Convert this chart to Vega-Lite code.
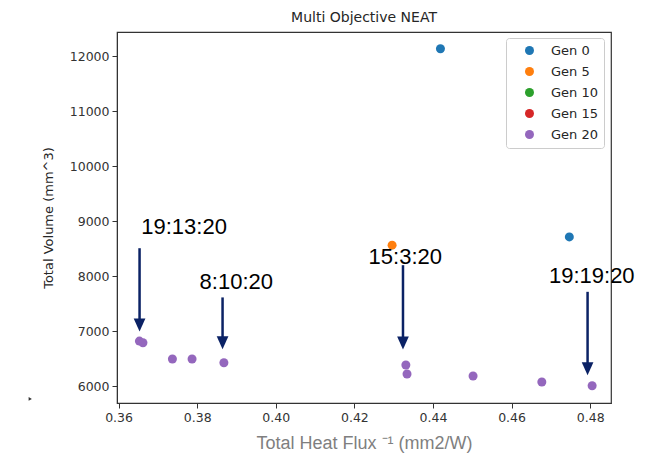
{
  "$schema": "https://vega.github.io/schema/vega-lite/v6.json",
  "width": 494,
  "height": 371,
  "autosize": {"type": "none"},
  "padding": {"left": 117, "top": 32, "right": 41, "bottom": 56},
  "background": "white",
  "title": {"text": "Multi Objective NEAT", "font": "DejaVu Sans", "fontSize": 14, "fontWeight": "normal", "color": "#262626", "offset": 7, "anchor": "middle"},
  "config": {
    "view": {"stroke": "#333333", "strokeWidth": 1.2},
    "axis": {"grid": false, "domainColor": "#333333", "tickColor": "#333333", "tickSize": 5, "labelFont": "DejaVu Sans", "labelFontSize": 12.5, "labelColor": "#333333", "labelPadding": 3, "domain": true}
  },
  "datasets": {
    "pts": [
      {"gen": "Gen 0", "flux": 0.4419, "volume": 12140},
      {"gen": "Gen 0", "flux": 0.4747, "volume": 8715},
      {"gen": "Gen 5", "flux": 0.4296, "volume": 8564},
      {"gen": "Gen 20", "flux": 0.3653, "volume": 6818},
      {"gen": "Gen 20", "flux": 0.3662, "volume": 6787},
      {"gen": "Gen 20", "flux": 0.3737, "volume": 6491},
      {"gen": "Gen 20", "flux": 0.3787, "volume": 6491},
      {"gen": "Gen 20", "flux": 0.3868, "volume": 6424},
      {"gen": "Gen 20", "flux": 0.4331, "volume": 6382},
      {"gen": "Gen 20", "flux": 0.4334, "volume": 6218},
      {"gen": "Gen 20", "flux": 0.4502, "volume": 6182},
      {"gen": "Gen 20", "flux": 0.4677, "volume": 6073},
      {"gen": "Gen 20", "flux": 0.4805, "volume": 6005}
    ],
    "arrows": [
      {"flux": 0.36534, "volume": 8509, "volume2": 7111, "label": "19:13:20"},
      {"flux": 0.38646, "volume": 7613, "volume2": 6788, "label": "8:10:20"},
      {"flux": 0.43237, "volume": 8200, "volume2": 6782, "label": "15:3:20"},
      {"flux": 0.47934, "volume": 7715, "volume2": 6313, "label": "19:19:20"}
    ],
    "labels": [
      {"flux": 0.37667, "volume": 8776, "label": "19:13:20"},
      {"flux": 0.38995, "volume": 7758, "label": "8:10:20"},
      {"flux": 0.43295, "volume": 8213, "label": "15:3:20"},
      {"flux": 0.48041, "volume": 7867, "label": "19:19:20"}
    ],
    "artifact": [
      {"flux": 0.33753, "volume": 5764}
    ]
  },
  "layer": [
    {
      "data": {"name": "pts"},
      "mark": {"type": "point", "filled": true, "opacity": 1, "size": 81},
      "encoding": {
        "x": {"field": "flux", "type": "quantitative", "scale": {"domain": [0.3596, 0.4853], "nice": false, "zero": false},
              "axis": {"title": "Total Heat Flux ⁻¹ (mm2/W)", "titleFont": "Liberation Sans", "titleFontSize": 18, "titleFontWeight": "normal", "titleColor": "#7f7f7f", "titlePadding": 11,
                       "values": [0.36, 0.38, 0.40, 0.42, 0.44, 0.46, 0.48], "format": ".2f"}},
        "y": {"field": "volume", "type": "quantitative", "scale": {"domain": [5691, 12445], "nice": false, "zero": false},
              "axis": {"title": "Total Volume (mm^3)", "titleFont": "DejaVu Sans", "titleFontSize": 13, "titleFontWeight": "normal", "titleColor": "#262626", "titlePadding": 14,
                       "values": [6000, 7000, 8000, 9000, 10000, 11000, 12000], "format": "d"}},
        "color": {"field": "gen", "type": "nominal",
                  "scale": {"domain": ["Gen 0", "Gen 5", "Gen 10", "Gen 15", "Gen 20"], "range": ["#1f77b4", "#ff7f0e", "#2ca02c", "#d62728", "#9467bd"]},
                  "legend": {"title": null, "orient": "none", "legendX": 389, "legendY": 6, "padding": 6, "symbolOffset": 11, "labelOffset": 15,
                             "labelFont": "DejaVu Sans", "labelFontSize": 13, "labelColor": "#262626", "rowPadding": 7, "symbolSize": 81, "symbolType": "circle",
                             "strokeColor": "#cccccc", "fillColor": "white", "cornerRadius": 3}}
      }
    },
    {
      "data": {"name": "arrows"},
      "mark": {"type": "rule", "color": "#0b2265", "strokeWidth": 2.5},
      "encoding": {
        "x": {"field": "flux", "type": "quantitative"},
        "y": {"field": "volume", "type": "quantitative"},
        "y2": {"field": "volume2"}
      }
    },
    {
      "data": {"name": "arrows"},
      "mark": {"type": "point", "filled": true, "opacity": 1, "shape": "M-0.9,-1L0.9,-1L0,1Z", "size": 169, "color": "#0b2265"},
      "encoding": {
        "x": {"field": "flux", "type": "quantitative"},
        "y": {"field": "volume2", "type": "quantitative"}
      }
    },
    {
      "data": {"name": "labels"},
      "mark": {"type": "text", "font": "Liberation Sans", "fontSize": 22, "color": "#000000", "align": "center", "baseline": "alphabetic"},
      "encoding": {
        "x": {"field": "flux", "type": "quantitative"},
        "y": {"field": "volume", "type": "quantitative"},
        "text": {"field": "label"}
      }
    },
    {
      "data": {"name": "artifact"},
      "mark": {"type": "point", "filled": true, "opacity": 1, "shape": "triangle-right", "size": 14, "color": "#333333"},
      "encoding": {
        "x": {"field": "flux", "type": "quantitative"},
        "y": {"field": "volume", "type": "quantitative"}
      }
    }
  ]
}
